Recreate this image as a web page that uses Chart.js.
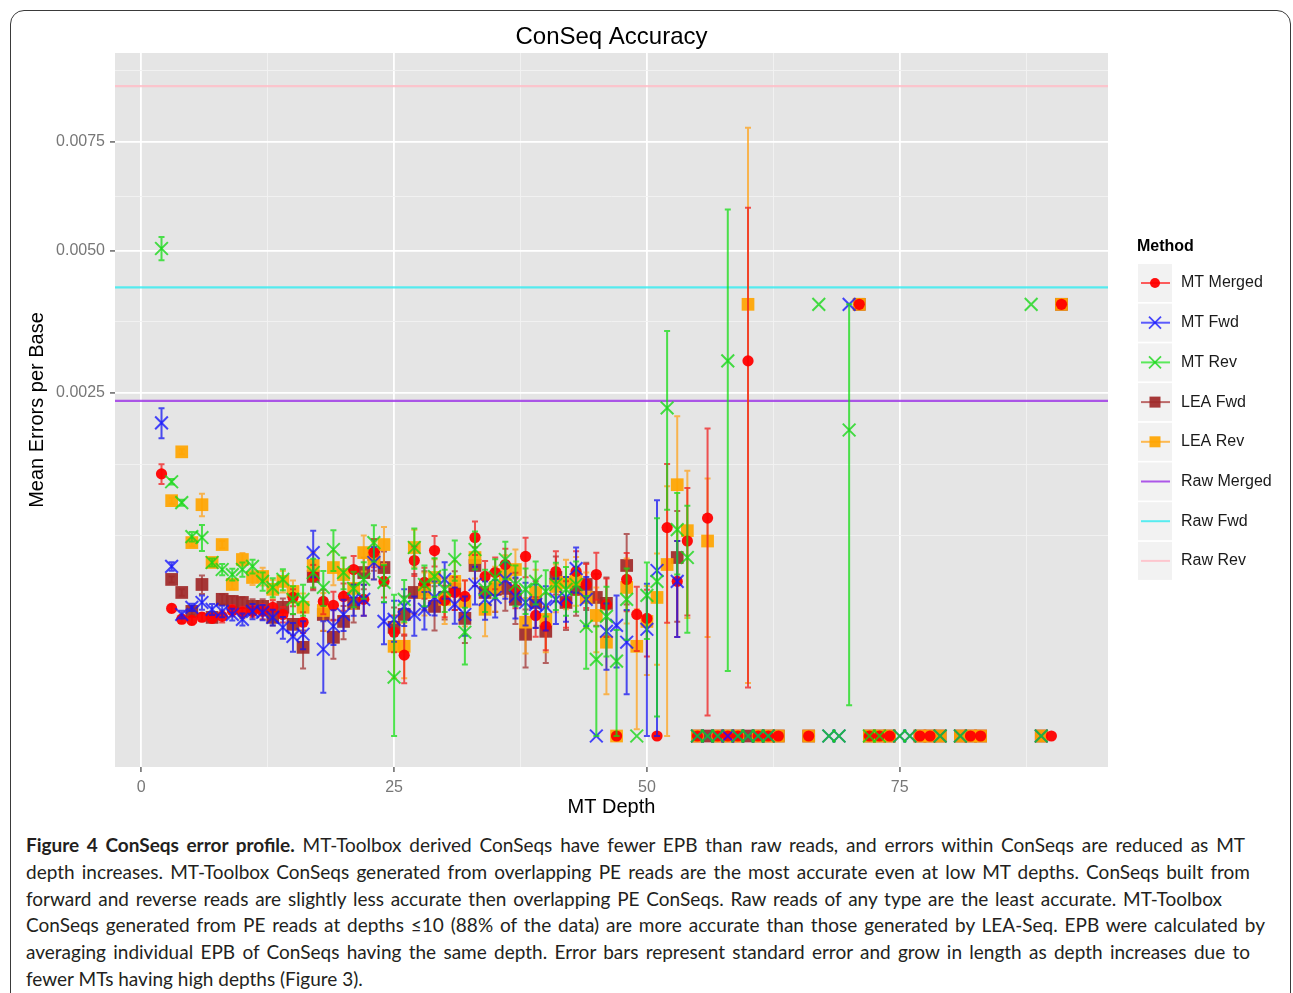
<!DOCTYPE html>
<html>
<head>
<meta charset="utf-8">
<title>ConSeq Accuracy</title>
<script src="https://cdn.jsdelivr.net/npm/chart.js@4.4.1/dist/chart.umd.min.js"></script>
<style>
  html, body { margin: 0; padding: 0; background: #fff; }
  body { width: 1293px; height: 993px; position: relative; overflow: hidden; }
  #frame { position: absolute; left: 10px; top: 10px; width: 1281px; height: 1200px;
           border: 1.5px solid #3a3a3a; border-radius: 14px; box-sizing: border-box; }
  #chartBox { position: absolute; left: 0; top: 0; width: 1293px; height: 830px; }
  #caption { position: absolute; left: 26px; top: 832px; font-family: Lato, "Open Sans", sans-serif;
             font-size: 19px; line-height: 26.8px; color: #231f20; }
  #caption div { text-align: justify; text-align-last: justify; }
  #caption div.last { text-align-last: left; }
</style>
</head>
<body>
<div id="frame"></div>
<div id="chartBox"><canvas id="accuracyChart"></canvas></div>
<div id="caption">
  <div style="width:1219px"><b>Figure 4 ConSeqs error profile.</b> MT-Toolbox derived ConSeqs have fewer EPB than raw reads, and errors within ConSeqs are reduced as MT</div>
  <div style="width:1224px">depth increases. MT-Toolbox ConSeqs generated from overlapping PE reads are the most accurate even at low MT depths. ConSeqs built from</div>
  <div style="width:1196px">forward and reverse reads are slightly less accurate then overlapping PE ConSeqs. Raw reads of any type are the least accurate. MT-Toolbox</div>
  <div style="width:1239px">ConSeqs generated from PE reads at depths ≤10 (88% of the data) are more accurate than those generated by LEA-Seq. EPB were calculated by</div>
  <div style="width:1224px">averaging individual EPB of ConSeqs having the same depth. Error bars represent standard error and grow in length as depth increases due to</div>
  <div class="last">fewer MTs having high depths (Figure 3).</div>
</div>
<script>
// Values: MT depth, mean errors per base, standard error
const mtMergedDepth = [2,3,4,5,6,7,8,9,10,11,12,13,14,15,16,17,18,19,20,21,22,23,24,25,26,27,28,29,30,31,
  32,33,34,35,36,37,38,39,40,41,42,43,44,45,46,47,48,49,50,51,52,53,54,55,56,57,58,59,60,61,
  62,63,66,71,72,73,74,77,78,82,83,90,91];
const mtMergedMean = [0.00146,0.000346,0.00029,0.000284,0.0003,0.000294,0.000304,0.000335,0.000325,0.00033,
  0.00033,0.000352,0.000314,0.000408,0.000275,0.000541,0.000385,0.000363,0.000414,0.000589,
  0.000397,0.000715,0.000508,0.000229,0.000139,0.000654,0.000501,0.000731,0.00039,0.000438,
  0.000414,0.000837,0.000541,0.000568,0.000625,0.000457,0.000685,0.000309,0.000256,0.000575,
  0.000379,0.000575,0.000488,0.000554,0.000368,0,0.000521,0.000314,0.000294,0,
  0.000923,0.000508,0.000808,0,0.001009,0,0,0,0.00299,0,
  0,0,0,0.00396,0,0,0,0,0,0,0,0,0.00396];
const mtMergedSe = [0.00011,0.00002,0.00002,0.00002,0.00002,0.00002,0.00003,0.00003,0.00003,0.00003,
  0.00004,0.00004,0.00004,0.00005,0.00005,0.00008,0.00007,0.00008,0.00008,0.0001,
  0.00009,0.00011,0.0001,0.00008,0.00008,0.00011,0.0001,0.00012,0.00009,0.0001,
  0.0001,0.00014,0.00011,0.00011,0.00012,0.00011,0.00015,0.0001,0.0001,0.00015,
  0.00013,0.00015,0.00014,0.00016,0.00016,0,0.00019,0.00016,0.00016,0,
  0.00065,0.0003,0.0005,0,0.001,0,0,0,0.00294,0,
  0,0,0,0,0,0,0,0,0,0,0,0,0];

const mtFwdDepth = [2,3,4,5,6,7,8,9,10,11,12,13,14,15,16,17,18,19,20,21,22,23,24,25,26,27,28,29,30,31,
  32,33,34,35,36,37,38,39,40,41,42,43,44,45,46,47,48,
  50,51,53,55,56,57,58,59,60,61,62,68,69,70,75,76,79,81,89];
const mtFwdMean = [0.002083,0.000611,0.000314,0.000352,0.000379,0.000341,0.00033,0.000314,0.000289,0.00033,
  0.000325,0.000299,0.000251,0.000211,0.00022,0.000715,0.00016,0.000256,0.000314,0.000397,
  0.000397,0.00064,0.000279,0.000289,0.000357,0.000314,0.000341,0.000408,0.000521,0.000368,
  0.000314,0.000488,0.000397,0.000408,0.000521,0.000414,0.000379,0.000368,0.000357,0.000397,
  0.000408,0.000596,0.000397,0,0.000233,0.00026,0.000187,
  0.000242,0.000582,0.000508,0,0,0,0,0,0,0,0,0,0,0.00396,0,0,0,0,0];
const mtFwdSe = [0.0002,0.00003,0.00002,0.00002,0.00004,0.00003,0.00003,0.00003,0.00003,0.00004,
  0.00004,0.00004,0.00005,0.00006,0.00006,0.00018,0.00012,0.00008,0.00008,0.00009,
  0.00009,0.00012,0.0001,0.0001,0.0001,0.0001,0.0001,0.0001,0.00012,0.0001,
  0.0001,0.00012,0.00011,0.00011,0.00012,0.00012,0.00012,0.00012,0.00012,0.00013,
  0.00013,0.00016,0.00014,0,0.00014,0.00016,0.00015,
  0.00025,0.0006,0.0003,0,0,0,0,0,0,0,0,0,0,0,0,0,0,0,0];

const mtRevDepth = [2,3,4,5,6,7,8,9,10,11,12,13,14,15,16,17,18,19,20,21,22,23,24,25,26,27,28,29,30,31,
  32,33,34,35,36,37,38,39,40,41,42,43,44,45,46,47,48,49,50,51,52,53,54,55,56,57,58,59,60,61,
  62,67,68,69,70,72,73,75,76,79,81,88,89];
const mtRevMean = [0.00505,0.001374,0.001157,0.000845,0.000837,0.00064,0.000589,0.000554,0.000589,0.000611,
  0.000508,0.000469,0.000521,0.000397,0.000397,0.000568,0.000469,0.000739,0.000568,0.000463,
  0.000521,0.000795,0.000501,0.0000735,0.000397,0.000755,0.000488,0.000541,0.000457,0.000662,
  0.000229,0.000739,0.000457,0.000534,0.000662,0.000488,0.000457,0.000508,0.000444,0.000488,
  0.000457,0.000488,0.000256,0.000125,0.000304,0.000119,0.000397,0,0.00042,0.000508,
  0.002287,0.000905,0.000677,0,0,0,0.00299,0,0,0,
  0,0.00396,0,0,0.00199,0,0,0,0,0,0,0.00396,0];
const mtRevSe = [0.00024,0.00003,0.00003,0.00004,0.00011,0.00003,0.00004,0.00004,0.00005,0.00005,
  0.00006,0.00006,0.00007,0.00008,0.00009,0.0001,0.00011,0.00016,0.00011,0.00011,
  0.00012,0.00015,0.00012,0.00035,0.00012,0.00016,0.00013,0.00013,0.00013,0.00015,
  0.00012,0.00015,0.00013,0.00013,0.00014,0.00013,0.00014,0.00014,0.00014,0.00015,
  0.00015,0.00016,0.00016,0.00013,0.00017,0.00012,0.0002,0,0.00022,0.0005,
  0.0012,0.00035,0.00045,0,0,0,0.0029,0,0,0,
  0,0,0,0,0.00197,0,0,0,0,0,0,0,0];

const leaFwdDepth = [3,4,5,6,7,8,9,10,11,12,13,14,15,16,17,18,19,20,21,22,23,24,25,26,27,28,29,30,31,32,
  33,34,35,36,37,38,39,40,41,42,43,44,45,46,
  48,53,55,56,57,58,59,60,61,62,63,66,71,72,73,74,77,78,79,81,82,83,89,91];
const leaFwdMean = [0.000521,0.000438,0.00033,0.000488,0.000299,0.000397,0.000385,0.000379,0.000357,0.000357,
  0.000299,0.000352,0.000265,0.000167,0.000541,0.000314,0.000207,0.000279,0.000374,0.000568,
  0.0007,0.000603,0.000251,0.000314,0.000438,0.000457,0.000357,0.000408,0.000457,0.000294,
  0.000618,0.000438,0.000457,0.000463,0.000397,0.00022,0.000379,0.000233,0.000534,0.000379,
  0.000457,0.000488,0.000408,0.000374,
  0.000618,0.000677,0,0,0,0,0,0,0,0,0,0,0.00396,0,0,0,0,0,0,0,0,0,0,0.00396];
const leaFwdSe = [0.00002,0.00002,0.00002,0.00006,0.00002,0.00003,0.00003,0.00003,0.00004,0.00004,
  0.00004,0.00005,0.00005,0.00007,0.00009,0.00008,0.00008,0.00008,0.0001,0.00011,
  0.00012,0.00012,0.0001,0.0001,0.00012,0.00012,0.00012,0.00012,0.00012,0.00011,
  0.00014,0.00012,0.00013,0.00013,0.00013,0.00012,0.00013,0.00012,0.00015,0.00014,
  0.00015,0.00015,0.00015,0.00016,
  0.00025,0.0004,0,0,0,0,0,0,0,0,0,0,0,0,0,0,0,0,0,0,0,0,0,0];

const leaRevDepth = [3,4,5,6,7,8,9,10,11,12,13,14,15,16,17,18,19,20,21,22,23,24,25,26,27,28,29,30,31,32,
  33,34,35,36,37,38,39,40,41,42,43,44,45,46,47,48,49,50,51,52,53,54,55,56,57,58,59,60,61,62,
  63,66,71,72,73,74,77,78,79,81,82,83,89,91];
const leaRevMean = [0.001177,0.001716,0.000795,0.001137,0.00064,0.000779,0.000488,0.000662,0.000534,0.000541,
  0.000457,0.000508,0.000444,0.000352,0.000618,0.000335,0.000603,0.000554,0.000463,0.000715,
  0.000662,0.000779,0.000171,0.000171,0.000755,0.000438,0.000534,0.000397,0.000508,0.000385,
  0.000677,0.000341,0.000469,0.000554,0.000589,0.000275,0.000438,0.000289,0.000475,0.000501,
  0.000521,0.000408,0.000309,0.000187,0,0.000469,0.000171,0.000279,0.000408,0.000625,
  0.001342,0.000896,0,0.000808,0,0,0,0.00396,0,0,
  0,0,0.00396,0,0,0,0,0,0,0,0,0,0,0.00396];
const leaRevSe = [0.00003,0.00003,0.00003,0.00011,0.00003,0.00003,0.00003,0.00005,0.00005,0.00006,
  0.00006,0.00007,0.00007,0.00008,0.0001,0.0001,0.00012,0.00012,0.00012,0.00014,
  0.00014,0.00015,0.0001,0.0001,0.00015,0.00013,0.00013,0.00013,0.00014,0.00013,
  0.00015,0.00013,0.00014,0.00014,0.00015,0.00013,0.00015,0.00014,0.00015,0.00016,
  0.00016,0.00016,0.00016,0.00015,0,0.0002,0.00017,0.0002,0.0003,0.0007,
  0.00083,0.0006,0,0.0006,0,0,0,0.0039,0,0,
  0,0,0,0,0,0,0,0,0,0,0,0,0,0];

// raw read error rates (horizontal reference lines)
const rawMerged = 0.002386;
const rawFwd = 0.004278;
const rawRev = 0.008976;

// axes
const xMin = -2.6, xMax = 95.6;
const xMajorTicks = [0, 25, 50, 75];
const xMinorTicks = [12.5, 37.5, 62.5, 87.5];
const yMin = -0.0000204, yMax = 0.009913;
const yMajorTicks = [0.0025, 0.005, 0.0075];
const yTickLabels = ['0.0025', '0.0050', '0.0075'];
const yMinorTicks = [0.000858, 0.001572, 0.003643, 0.006187, 0.009401];

const legendOrder = ['MT Merged', 'MT Fwd', 'MT Rev', 'LEA Fwd', 'LEA Rev', 'Raw Merged', 'Raw Fwd', 'Raw Rev'];

// y axis on a square-root scale, like the ggplot original
const sgnSqrt = v => Math.sign(v) * Math.sqrt(Math.abs(v));
class SqrtScale extends Chart.LinearScale {
  getPixelForValue(value) {
    const lo = sgnSqrt(this.min), hi = sgnSqrt(this.max);
    return this.getPixelForDecimal((sgnSqrt(value) - lo) / (hi - lo));
  }
  getValueForPixel(pixel) {
    const lo = sgnSqrt(this.min), hi = sgnSqrt(this.max);
    const s = lo + this.getDecimalForPixel(pixel) * (hi - lo);
    return Math.sign(s) * s * s;
  }
}
SqrtScale.id = 'sqrt';
SqrtScale.defaults = { ticks: { callback: v => v } };
Chart.register(SqrtScale);

const FONT = '"Liberation Sans", Arial, sans-serif';
Chart.defaults.font.family = FONT;

const toPoints = (xs, ys) => xs.map((d, i) => ({ x: d, y: ys[i] }));

function pointSeries(label, xs, ys, se, style, order) {
  return Object.assign({
    label: label,
    data: toPoints(xs, ys),
    se: se,
    order: order,
    borderWidth: 2
  }, style);
}

function rawLine(label, value, color) {
  return {
    label: label,
    data: [{ x: xMin, y: value }, { x: xMax, y: value }],
    showLine: true,
    pointRadius: 0,
    borderColor: color,
    borderWidth: 2.2,
    keyColor: color,
    order: 10
  };
}

const datasets = [
  pointSeries('MT Merged', mtMergedDepth, mtMergedMean, mtMergedSe, {
    pointStyle: 'circle', pointRadius: 5.6, backgroundColor: 'rgba(255,0,0,0.95)', borderColor: 'rgba(255,0,0,0.95)',
    borderWidth: 0, barColor: 'rgba(240,30,30,0.75)', keyColor: 'rgba(255,40,40,0.75)'
  }, 3),
  pointSeries('MT Fwd', mtFwdDepth, mtFwdMean, mtFwdSe, {
    pointStyle: 'crossRot', pointRadius: 9, backgroundColor: 'rgba(0,0,255,0.78)', borderColor: 'rgba(20,20,255,0.78)',
    barColor: 'rgba(20,20,240,0.75)', keyColor: 'rgba(40,40,255,0.75)'
  }, 2),
  pointSeries('MT Rev', mtRevDepth, mtRevMean, mtRevSe, {
    pointStyle: 'crossRot', pointRadius: 9, backgroundColor: 'rgba(0,220,0,0.78)', borderColor: 'rgba(20,215,20,0.78)',
    barColor: 'rgba(20,220,20,0.75)', keyColor: 'rgba(40,230,40,0.75)'
  }, 1),
  pointSeries('LEA Fwd', leaFwdDepth, leaFwdMean, leaFwdSe, {
    pointStyle: 'rect', pointRadius: 9, backgroundColor: 'rgba(160,40,40,0.92)', borderColor: 'rgba(160,40,40,0.92)',
    borderWidth: 0, barColor: 'rgba(160,45,45,0.72)', keyColor: 'rgba(170,60,60,0.75)'
  }, 5),
  pointSeries('LEA Rev', leaRevDepth, leaRevMean, leaRevSe, {
    pointStyle: 'rect', pointRadius: 9, backgroundColor: 'rgba(255,165,0,0.92)', borderColor: 'rgba(255,165,0,0.92)',
    borderWidth: 0, barColor: 'rgba(255,160,20,0.72)', keyColor: 'rgba(255,170,40,0.8)'
  }, 4),
  rawLine('Raw Merged', rawMerged, 'rgba(160,60,230,0.85)'),
  rawLine('Raw Fwd', rawFwd, 'rgba(60,235,240,0.85)'),
  rawLine('Raw Rev', rawRev, 'rgba(255,190,200,0.85)')
];

// grey ggplot panel
const panelPlugin = {
  id: 'panel',
  beforeDraw(chart) {
    const { ctx, chartArea: a } = chart;
    ctx.save();
    ctx.fillStyle = '#e5e5e5';
    ctx.fillRect(a.left, a.top, a.right - a.left, a.bottom - a.top);
    ctx.restore();
  }
};

// vertical standard error bars, drawn just beneath each series' points
const errorBarPlugin = {
  id: 'errorBars',
  beforeDatasetDraw(chart, args) {
    const ds = chart.data.datasets[args.index];
    if (!ds.se) return;
    const { ctx, chartArea: a, scales: { x, y } } = chart;
    ctx.save();
    ctx.beginPath();
    ctx.rect(a.left, a.top, a.right - a.left, a.bottom - a.top);
    ctx.clip();
    ctx.strokeStyle = ds.barColor;
    ctx.lineWidth = 2;
    ds.data.forEach((p, i) => {
      const se = ds.se[i];
      if (!se) return;
      const px = x.getPixelForValue(p.x);
      const yTop = y.getPixelForValue(p.y + se);
      const yBot = y.getPixelForValue(Math.max(p.y - se, 0));
      ctx.beginPath();
      ctx.moveTo(px, yTop); ctx.lineTo(px, yBot);
      ctx.moveTo(px - 3, yTop); ctx.lineTo(px + 3, yTop);
      ctx.moveTo(px - 3, yBot); ctx.lineTo(px + 3, yBot);
      ctx.stroke();
    });
    ctx.restore();
  }
};

function drawMarker(ctx, style, cx, cy, ds) {
  ctx.fillStyle = ds.backgroundColor;
  ctx.strokeStyle = ds.borderColor;
  ctx.lineWidth = 1.8;
  if (style === 'circle') {
    ctx.beginPath(); ctx.arc(cx, cy, 5, 0, Math.PI * 2); ctx.fill();
  } else if (style === 'rect') {
    ctx.fillRect(cx - 5.5, cy - 5.5, 11, 11);
  } else if (style === 'crossRot') {
    const r = 6;
    ctx.beginPath();
    ctx.moveTo(cx - r, cy - r); ctx.lineTo(cx + r, cy + r);
    ctx.moveTo(cx + r, cy - r); ctx.lineTo(cx - r, cy + r);
    ctx.stroke();
  }
}

// title and "Method" legend in the ggplot layout
const annotationPlugin = {
  id: 'annotations',
  afterDraw(chart) {
    const { ctx, chartArea: a } = chart;
    ctx.save();
    ctx.fillStyle = '#000';
    ctx.textBaseline = 'middle';
    ctx.textAlign = 'center';
    ctx.font = '24px ' + FONT;
    ctx.fillText('ConSeq Accuracy', (a.left + a.right) / 2, 37);

    const left = 1137, top = 264, keyW = 34, keyH = 38, step = 39.7;
    ctx.textAlign = 'left';
    ctx.font = 'bold 16px ' + FONT;
    ctx.fillText('Method', left, 247);
    ctx.font = '16px ' + FONT;
    legendOrder.forEach((label, i) => {
      const ds = chart.data.datasets.find(d => d.label === label);
      const y0 = top + i * step;
      const cx = left + 1 + keyW / 2, cy = y0 + keyH / 2;
      ctx.fillStyle = '#f2f2f2';
      ctx.fillRect(left + 1, y0, keyW, keyH);
      ctx.strokeStyle = ds.keyColor;
      ctx.lineWidth = 2;
      ctx.beginPath(); ctx.moveTo(left + 4, cy); ctx.lineTo(left + keyW - 1, cy); ctx.stroke();
      if (ds.pointStyle) drawMarker(ctx, ds.pointStyle, cx, cy, ds);
      ctx.fillStyle = '#1a1a1a';
      ctx.fillText(label, left + 44, cy);
    });
    ctx.restore();
  }
};

const isXMajor = v => xMajorTicks.includes(v);
const isYMajor = v => yMajorTicks.includes(v);

new Chart(document.getElementById('accuracyChart'), {
  type: 'scatter',
  data: { datasets: datasets },
  plugins: [panelPlugin, errorBarPlugin, annotationPlugin],
  options: {
    responsive: true,
    maintainAspectRatio: false,
    animation: false,
    events: [],
    layout: { padding: { left: 0, right: 185, top: 53, bottom: 0 } },
    plugins: {
      legend: { display: false },
      tooltip: { enabled: false },
      title: { display: false }
    },
    scales: {
      x: {
        type: 'linear',
        min: xMin,
        max: xMax,
        bounds: 'data',
        afterBuildTicks: s => { s.ticks = xMajorTicks.concat(xMinorTicks).sort((a, b) => a - b).map(v => ({ value: v })); },
        afterFit: s => { s.height = 63; },
        border: { display: false },
        grid: {
          color: c => isXMajor(c.tick.value) ? '#ffffff' : '#f2f2f2',
          lineWidth: c => isXMajor(c.tick.value) ? 1.8 : 0.9,
          tickLength: 5,
          tickColor: c => isXMajor(c.tick.value) ? '#7f7f7f' : 'rgba(0,0,0,0)'
        },
        ticks: {
          autoSkip: false,
          maxRotation: 0,
          padding: 6,
          color: '#777',
          font: { size: 16 },
          callback: v => isXMajor(v) ? String(v) : ''
        },
        title: {
          display: true,
          text: 'MT Depth',
          color: '#000',
          font: { size: 20 },
          padding: { top: 0, bottom: 11 }
        }
      },
      y: {
        type: 'sqrt',
        min: yMin,
        max: yMax,
        bounds: 'data',
        afterBuildTicks: s => { s.ticks = yMinorTicks.concat(yMajorTicks).sort((a, b) => a - b).map(v => ({ value: v })); },
        afterFit: s => { s.width = 115; },
        border: { display: false },
        grid: {
          color: c => isYMajor(c.tick.value) ? '#ffffff' : '#f2f2f2',
          lineWidth: c => isYMajor(c.tick.value) ? 1.8 : 0.9,
          tickLength: 5,
          tickColor: c => isYMajor(c.tick.value) ? '#7f7f7f' : 'rgba(0,0,0,0)'
        },
        ticks: {
          autoSkip: false,
          padding: 5,
          color: '#777',
          font: { size: 16 },
          callback: v => isYMajor(v) ? yTickLabels[yMajorTicks.indexOf(v)] : ''
        },
        title: {
          display: true,
          text: 'Mean Errors per Base',
          color: '#000',
          font: { size: 20 },
          padding: { top: 25, bottom: 0 }
        }
      }
    }
  }
});
</script>
</body>
</html>
